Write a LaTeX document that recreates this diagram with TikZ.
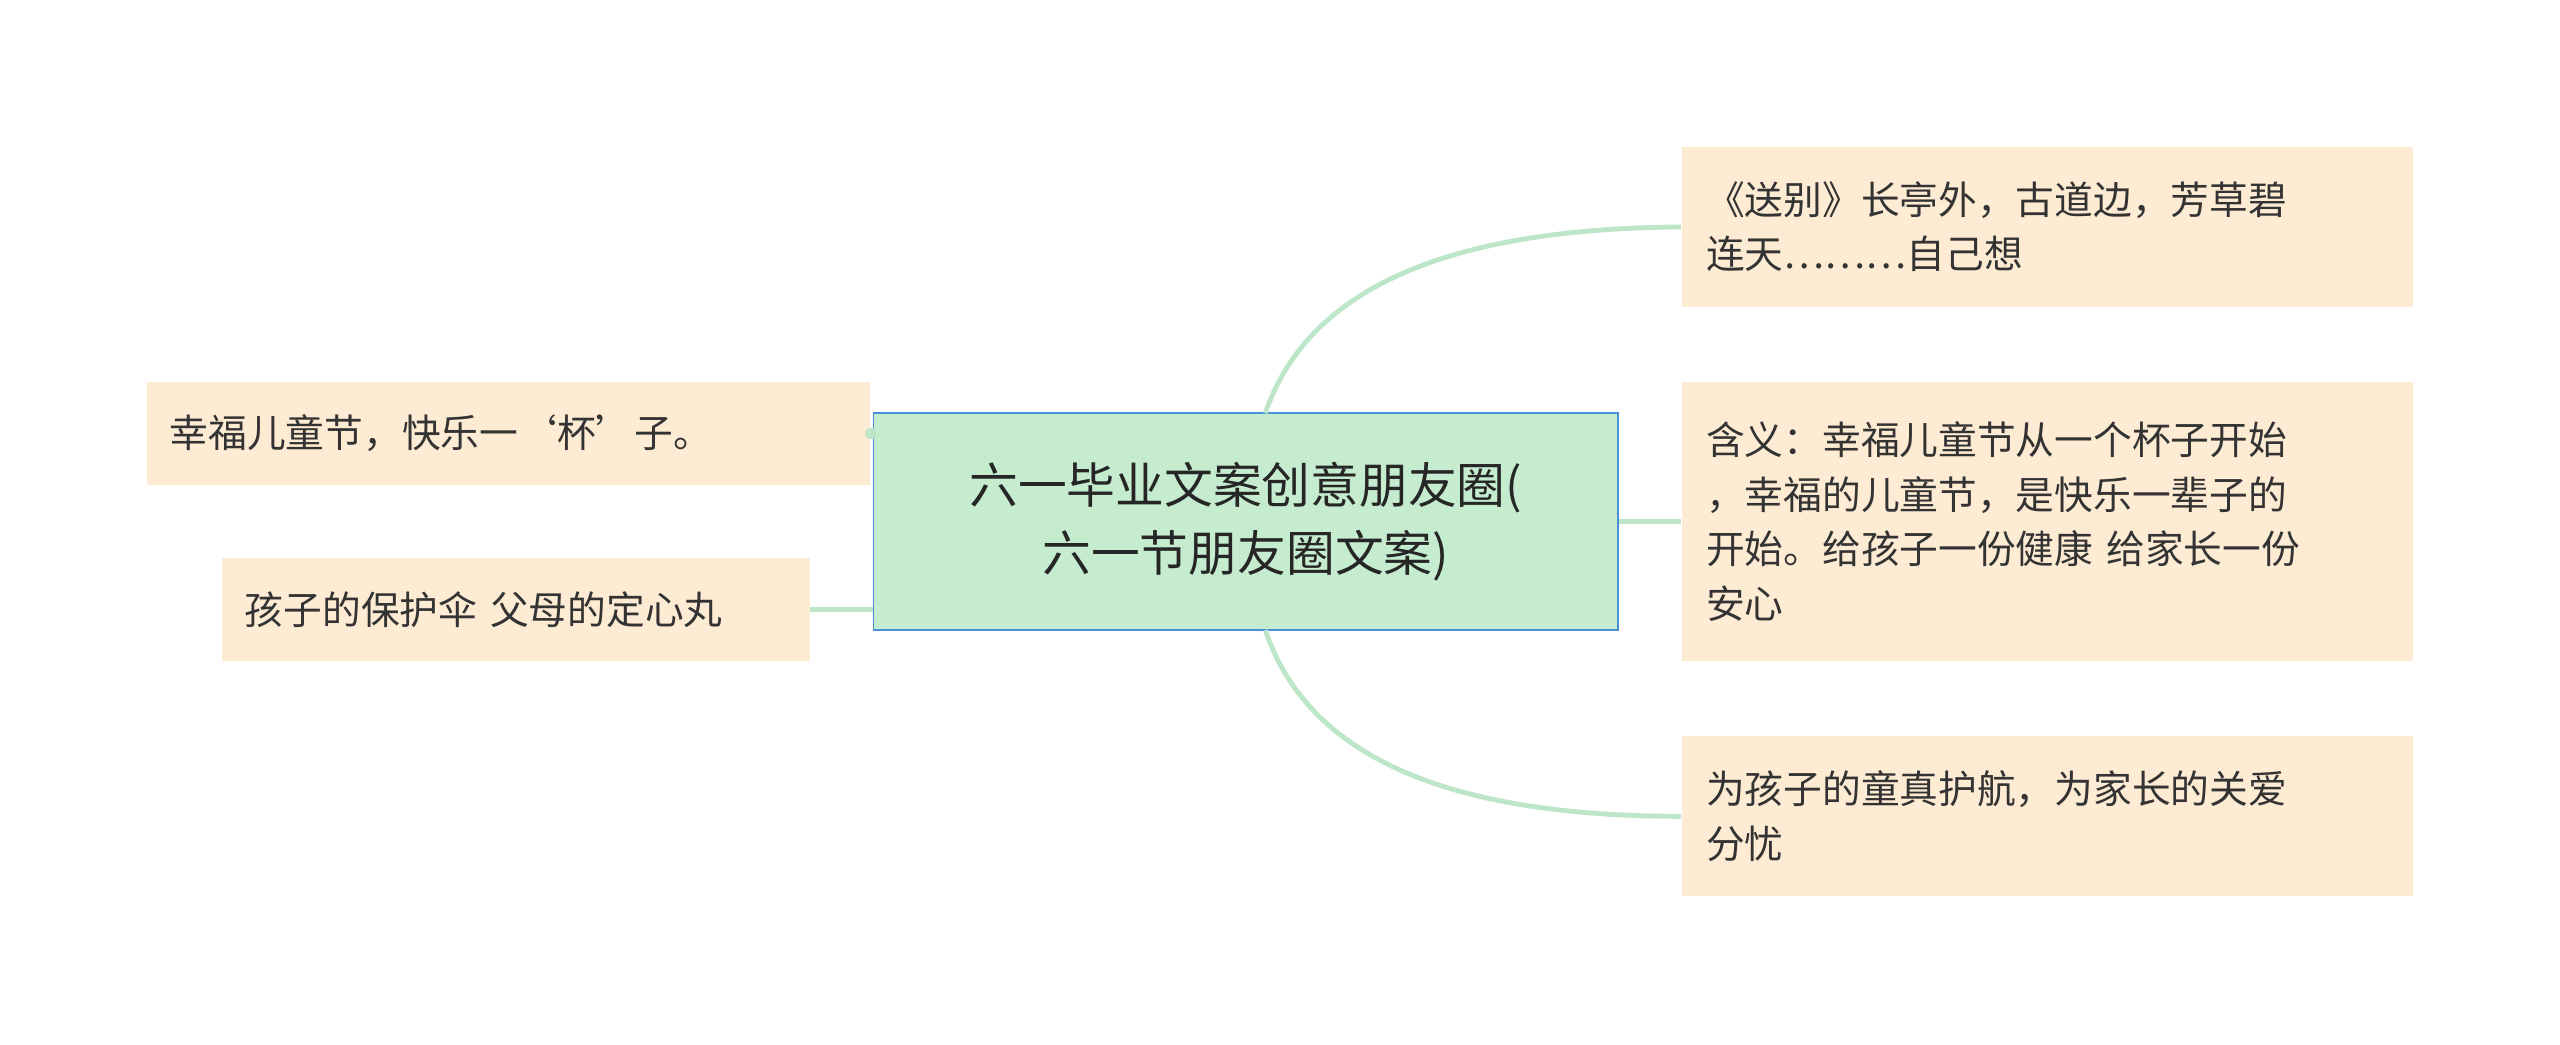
\documentclass[tikz,border=0pt]{standalone}
\usepackage{fontspec}
\setmainfont{Noto Sans CJK SC}
\begin{document}
\begin{tikzpicture}[x=0.02cm,y=-0.02cm,
  leaf/.style={fill=leafbg,draw=none,inner sep=0pt,align=left,font=\fontsize{13.5pt}{19pt}\selectfont,text=black!80},
  root/.style={fill=rootbg,draw=rootbd,line width=0.6pt,inner sep=0pt,align=center,font=\fontsize{17pt}{24pt}\selectfont,text=black!85},
  link/.style={draw=linkc,line width=1.7pt}]
\definecolor{leafbg}{HTML}{FDEBD3}
\definecolor{rootbg}{HTML}{C6ECCF}
\definecolor{rootbd}{HTML}{4A90D9}
\definecolor{linkc}{HTML}{BDE6C8}
\useasboundingbox (0,0) rectangle (1568,640);
\fill[white] (0,0) rectangle (1568,640);
\node[root,minimum width=456*0.02cm,minimum height=133*0.02cm] (c) at (763,319.5) {六一毕业文案创意朋友圈(\\六一节朋友圈文案)};
\node[leaf,minimum width=448*0.02cm,minimum height=98*0.02cm,text width=418*0.02cm] (r1) at (1254,139) {《送别》长亭外，古道边，芳草碧\\连天………自己想};
\node[leaf,minimum width=448*0.02cm,minimum height=171*0.02cm,text width=418*0.02cm] (r2) at (1254,319.5) {含义：幸福儿童节从一个杯子开始\\，幸福的儿童节，是快乐一辈子的\\开始。给孩子一份健康 给家长一份\\安心};
\node[leaf,minimum width=448*0.02cm,minimum height=98*0.02cm,text width=418*0.02cm] (r3) at (1254,500) {为孩子的童真护航，为家长的关爱\\分忧};
\node[leaf,minimum width=443*0.02cm,minimum height=63*0.02cm,text width=415*0.02cm] (l1) at (311.5,265.5) {幸福儿童节，快乐一‘杯’子。};
\node[leaf,minimum width=360*0.02cm,minimum height=63*0.02cm,text width=332*0.02cm] (l2) at (316,373.5) {孩子的保护伞 父母的定心丸};
\draw[link] (775,253) .. controls (800,180) and (880,140) .. (r1.west);
\draw[link] (c.east) -- (r2.west);
\draw[link] (775,386) .. controls (800,460) and (880,500) .. (r3.west);
\draw[link] (l1.east) -- (c.west |- l1.east);
\fill[linkc] (l1.east) circle (3.5);
\draw[link] (l2.east) -- (c.west |- l2.east);
\end{tikzpicture}
\end{document}
